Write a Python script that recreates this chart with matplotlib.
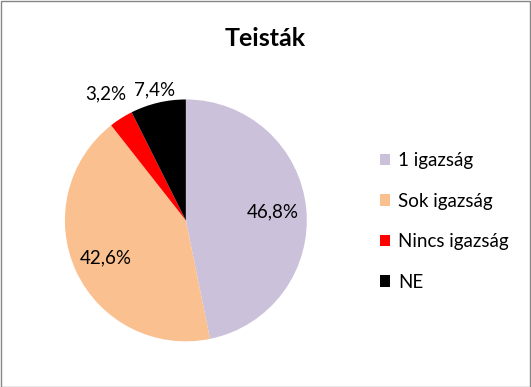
import matplotlib.pyplot as plt
import numpy as np
from matplotlib.patches import Rectangle

plt.rcParams['font.family'] = ['Lato', 'DejaVu Sans']

categories = ['1 igazság', 'Sok igazság', 'Nincs igazság', 'NE']
values = [46.8, 42.6, 3.2, 7.4]
colors = ['#CCC1DA', '#FAC090', '#FF0000', '#000000']
label_radius = [0.72, 0.73, 1.24, 1.11]

fig = plt.figure(figsize=(5.31, 3.87), dpi=100)
ax = fig.add_axes([0.122, 0.118, 0.456, 0.625])

wedges, _ = ax.pie(values, colors=colors, startangle=90, counterclock=False,
                   wedgeprops={'linewidth': 0})
ax.set_aspect('equal')
ax.set_xlim(-1, 1)
ax.set_ylim(-1, 1)

for w, v, r in zip(wedges, values, label_radius):
    ang = np.deg2rad((w.theta1 + w.theta2) / 2)
    ax.text(r * np.cos(ang), r * np.sin(ang), '{:.1f}%'.format(v).replace('.', ','),
            ha='center', va='center', fontsize=13.5, color='black')

fig.text(0.5, 0.9, 'Teisták', ha='center', va='center', fontsize=18, fontweight='bold')

fig.legend(wedges, categories, loc='center left', bbox_to_anchor=(0.715, 0.428),
           frameon=False, fontsize=13.5, handlelength=0.55, handleheight=0.55,
           handletextpad=0.45, labelspacing=1.25, borderpad=0, borderaxespad=0)

fig.add_artist(Rectangle((0.001, 0.001), 0.997, 0.997, transform=fig.transFigure,
                         fill=False, edgecolor='#868686', linewidth=1))

fig.savefig('out.png', dpi=100)
